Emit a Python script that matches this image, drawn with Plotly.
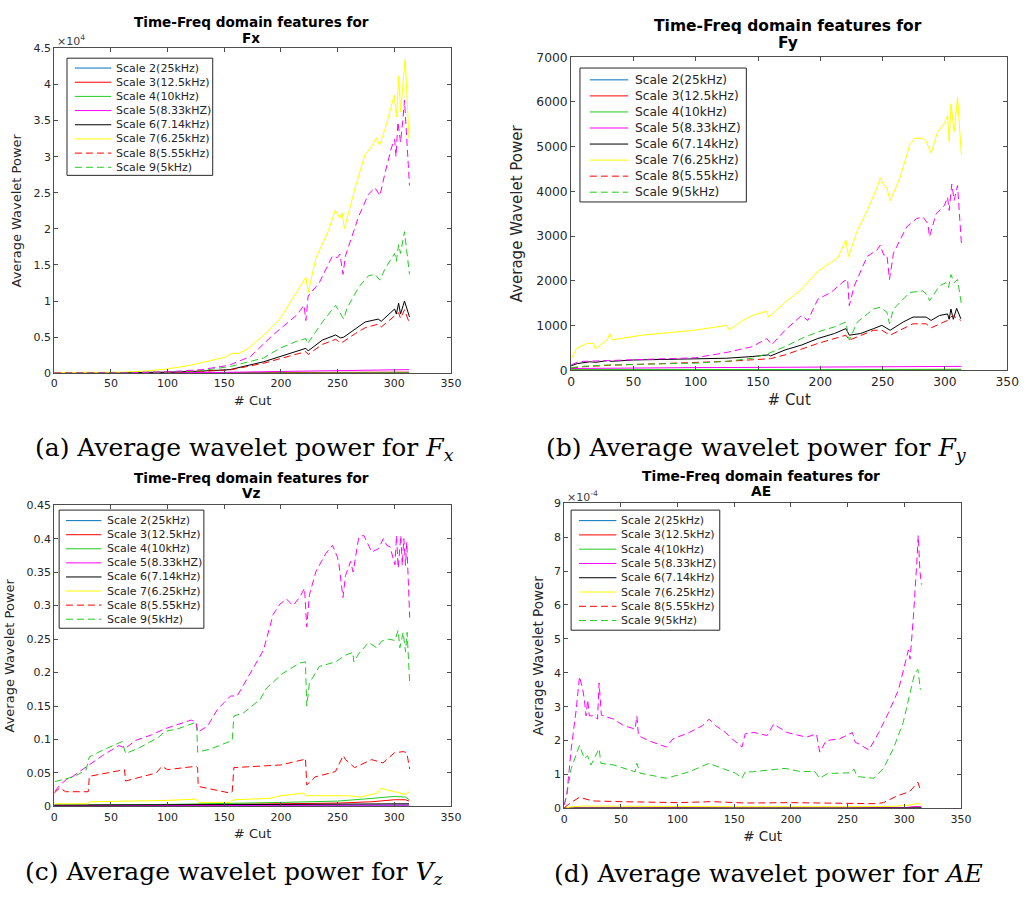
import plotly.graph_objects as go

W, H = 1035, 906

# ---------------- series names / styles ----------------
SERIES = ["Scale 2(25kHz)", "Scale 3(12.5kHz)", "Scale 4(10kHz)", "Scale 5(8.33kHZ)",
          "Scale 6(7.14kHz)", "Scale 7(6.25kHz)", "Scale 8(5.55kHz)", "Scale 9(5kHz)",
          "Scale 10"]
COLORS = ["#0072BD", "#FF0000", "#22CC22", "#FF00FF", "#000000",
          "#FFFF00", "#FF0000", "#22CC22", "#FF00FF"]
DASHES = ["solid", "solid", "solid", "solid", "solid", "solid",
          "7px,4px", "7px,4px", "7px,4px"]

X_TICKS = [0, 50, 100, 150, 200, 250, 300, 350]

# ---------------- (a) Fx  (values in units of 1e4) ----------------
fx_s2_x = [0, 100, 200, 313]
fx_s2_y = [0.0, 0.002, 0.004, 0.006]
fx_s3_x = [0, 100, 200, 313]
fx_s3_y = [0.0, 0.003, 0.008, 0.015]
fx_s4_x = [0, 100, 200, 313]
fx_s4_y = [0.001, 0.002, 0.003, 0.005]
fx_s5_x = [0, 100, 150, 200, 250, 300, 313]
fx_s5_y = [0.001, 0.005, 0.012, 0.025, 0.04, 0.05, 0.05]
fx_s6_x = [0, 60, 100, 130, 155, 185, 199, 213, 222, 224, 236.6, 248.2, 252.5, 255.4,
           265.6, 274.3, 285.8, 288.5, 300.3, 301.8, 303.8, 305.5, 309, 313.4]
fx_s6_y = [0.002, 0.005, 0.015, 0.03, 0.05, 0.16, 0.23, 0.3, 0.345, 0.31, 0.46, 0.53, 0.49,
           0.5, 0.62, 0.71, 0.75, 0.72, 0.89, 0.82, 0.97, 0.82, 1.0, 0.78]
fx_s7_x = [0, 40, 60, 80, 100, 120, 140, 150, 158, 162, 170, 185, 199, 210, 222, 224, 231,
           242, 248, 252, 254, 256, 266, 274, 280, 284, 287, 292, 297, 300, 302, 304, 305.5,
           307.5, 309.6, 313]
fx_s7_y = [0.01, 0.01, 0.015, 0.03, 0.06, 0.11, 0.18, 0.22, 0.28, 0.27, 0.33, 0.53, 0.75,
           1.02, 1.33, 1.12, 1.6, 1.98, 2.26, 2.15, 2.22, 2.0, 2.6, 3.02, 3.14, 3.26, 3.16,
           3.39, 3.7, 3.85, 3.55, 4.12, 3.62, 3.95, 4.35, 3.25]
fx_s8_x = [0, 60, 100, 130, 155, 185, 199, 213, 222, 224, 236.6, 248.2, 252.5, 255.4,
           265.6, 274.3, 285.8, 288.5, 300.3, 303.8, 305.5, 309, 313.4]
fx_s8_y = [0.002, 0.005, 0.013, 0.027, 0.045, 0.14, 0.2, 0.26, 0.3, 0.26, 0.4, 0.47, 0.42,
           0.44, 0.55, 0.63, 0.68, 0.64, 0.8, 0.84, 0.76, 0.88, 0.69]
fx_s9_x = [0, 60, 100, 130, 155.5, 184.5, 199, 213.5, 222, 223.5, 236.6, 248.2, 252.5,
           255.4, 258.3, 268.5, 277.2, 283, 287.3, 291.6, 300.3, 301.8, 303.8, 305.5, 309,
           313.4]
fx_s9_y = [0.002, 0.005, 0.015, 0.035, 0.095, 0.21, 0.345, 0.44, 0.48, 0.41, 0.71, 0.94,
           0.82, 0.75, 0.9, 1.19, 1.35, 1.37, 1.29, 1.44, 1.66, 1.55, 1.78, 1.66, 1.96, 1.37]
fx_s10_x = [0, 60, 100, 130, 150, 155.5, 173, 193, 213.5, 220.4, 222, 224, 233.7, 245.3,
            249.6, 252, 254.8, 256.8, 268.5, 277.2, 283, 287.3, 291.6, 297.4, 300.3, 301.5,
            303.2, 305.5, 307.5, 309, 313.4]
fx_s10_y = [0.002, 0.005, 0.02, 0.05, 0.1, 0.12, 0.23, 0.53, 0.8, 0.94, 0.73, 1.07, 1.25,
            1.62, 1.6, 1.65, 1.37, 1.62, 2.17, 2.48, 2.57, 2.46, 2.76, 3.12, 3.24, 3.0, 3.48,
            3.2, 3.5, 3.78, 2.6]

# ---------------- (b) Fy ----------------
fy_s2_x = [0, 313]
fy_s2_y = [2, 5]
fy_s3_x = [0, 100, 200, 313]
fy_s3_y = [10, 12, 15, 20]
fy_s4_x = [0, 100, 200, 313]
fy_s4_y = [15, 16, 18, 20]
fy_s5_x = [0, 50, 100, 150, 200, 250, 300, 313]
fy_s5_y = [40, 55, 60, 65, 70, 75, 85, 88]
fy_s6_x = [0, 5, 15, 20, 30, 32, 50, 100, 125, 145.4, 158.6, 160, 171.7, 184.9, 198, 211.3,
           220.5, 223.2, 232.3, 242.8, 249.4, 256, 266.5, 274.4, 284.9, 288.9, 295.6, 302.1,
           303.4, 304.8, 306.7, 309.4, 312.8]
fy_s6_y = [100, 150, 190, 180, 220, 200, 230, 250, 270, 308, 345, 320, 455, 565, 711, 822,
           932, 785, 822, 932, 1005, 895, 1080, 1190, 1190, 1115, 1225, 1260, 1140, 1370,
           1140, 1385, 1150]
fy_s7_x = [0, 4.4, 12.3, 18, 19.5, 29, 31, 33, 56.7, 83, 98.8, 125, 127, 135.7, 145.4,
           156.7, 158.6, 171.7, 184.9, 198, 205.9, 213.9, 220.5, 222.6, 229.7, 237.6, 245.5,
           248.1, 250.8, 253.4, 256, 263.9, 271.8, 275.7, 282.3, 284.9, 288.9, 294.2, 299.5,
           302.1, 303.4, 304.8, 307.4, 310.1, 313.2]
fy_s7_y = [250, 490, 600, 600, 480, 680, 820, 680, 785, 858, 895, 1005, 900, 1080, 1225,
           1320, 1190, 1520, 1810, 2215, 2360, 2510, 2910, 2545, 3130, 3570, 4085, 4300, 4150,
           4080, 3790, 4300, 5040, 5190, 5190, 5115, 4860, 5335, 5520, 5700, 5115, 5960,
           5335, 6105, 4820]
fy_s8_x = [0, 10, 30, 50, 100, 125, 145.4, 160, 171.7, 198, 220.5, 223.2, 242.8, 249.4,
           256, 274.4, 284.9, 288.9, 302.1, 306, 312.8]
fy_s8_y = [50, 80, 110, 130, 170, 200, 235, 260, 345, 600, 785, 675, 895, 895, 785, 1040,
           1040, 950, 1115, 1225, 1115]
fy_s9_x = [0, 10, 30, 50, 100, 125, 145.4, 158.6, 171.7, 184.9, 198, 211.3, 220.5, 223.2,
           229.7, 242.8, 248.1, 253.4, 255.5, 258.7, 271.8, 282.3, 286.3, 287.6, 295.6,
           300.8, 302.9, 304.8, 307.4, 310.1, 313.2]
fy_s9_y = [60, 90, 120, 130, 160, 200, 270, 380, 528, 711, 858, 970, 1080, 675, 1080,
           1370, 1410, 1300, 1040, 1370, 1740, 1775, 1665, 1555, 1885, 1960, 1850, 2140,
           1960, 2030, 1480]
fy_s10_x = [0, 5, 10, 30, 50, 100, 125, 145.4, 150, 157, 161, 171.7, 184.9, 190, 198,
            208.5, 219, 221.9, 223.2, 227.2, 237.6, 245.5, 248.1, 250.8, 253.4, 255.5,
            258.7, 269.2, 277.1, 282.3, 286.3, 287.6, 292.9, 299.5, 302.1, 303.4, 305.5,
            307.4, 310.1, 313.2]
fy_s10_y = [120, 180, 200, 220, 230, 280, 400, 528, 600, 711, 570, 895, 1225, 1115, 1590,
            1740, 1995, 2030, 1445, 1885, 2545, 2690, 2800, 2580, 2580, 2030, 2620, 3205,
            3390, 3430, 3280, 2985, 3500, 3680, 3870, 3575, 4160, 3800, 4130, 2840]

# ---------------- (c) Vz ----------------
vz_s2_x = [0, 313]
vz_s2_y = [0.001, 0.002]
vz_s3_x = [0, 100, 200, 250, 280, 300, 310, 313]
vz_s3_y = [0.001, 0.002, 0.004, 0.005, 0.007, 0.01, 0.01, 0.008]
vz_s4_x = [0, 100, 200, 250, 280, 300, 310, 313]
vz_s4_y = [0.002, 0.003, 0.006, 0.008, 0.012, 0.015, 0.014, 0.01]
vz_s5_x = [0, 313]
vz_s5_y = [0.001, 0.002]
vz_s6_x = [0, 100, 200, 313]
vz_s6_y = [0.002, 0.002, 0.003, 0.004]
vz_s7_x = [0, 30, 31, 60, 100, 125, 127, 155, 158, 190, 200, 220, 222, 230, 260, 270, 285,
           288, 300, 310, 313]
vz_s7_y = [0.004, 0.004, 0.007, 0.008, 0.009, 0.011, 0.006, 0.006, 0.01, 0.012, 0.016,
           0.02, 0.016, 0.016, 0.016, 0.014, 0.02, 0.027, 0.022, 0.018, 0.022]
vz_s8_x = [0, 5, 10, 30, 31, 60, 62, 63, 90, 95, 100, 125, 126.5, 127, 155, 157, 158.5,
           200, 220, 221.6, 222.8, 230, 248, 255, 257, 265, 280, 290, 300, 308, 311, 313.6]
vz_s8_y = [0.02, 0.028, 0.022, 0.022, 0.045, 0.055, 0.055, 0.038, 0.05, 0.06, 0.055, 0.06,
           0.058, 0.03, 0.02, 0.022, 0.058, 0.062, 0.07, 0.072, 0.032, 0.044, 0.052, 0.076,
           0.07, 0.058, 0.07, 0.065, 0.08, 0.082, 0.08, 0.056]
vz_s9_x = [0.6, 7.8, 16.5, 28, 31, 42.6, 60, 63, 74.4, 91.8, 97.6, 109.2, 123.7, 125.5,
           126.6, 138.2, 157, 158.5, 167.2, 181.7, 187.4, 201.9, 216.4, 221.6, 222.8, 225.1,
           233.8, 248.3, 257, 263.4, 264.3, 268.6, 277.3, 284.6, 288.9, 294.7, 300.5, 303.4,
           304.9, 307.8, 309.9, 311.3, 313.6]
vz_s9_y = [0.037, 0.04, 0.044, 0.054, 0.074, 0.084, 0.097, 0.079, 0.087, 0.103, 0.112,
           0.116, 0.125, 0.126, 0.081, 0.086, 0.0985, 0.135, 0.14, 0.16, 0.177, 0.199, 0.214,
           0.216, 0.15, 0.184, 0.209, 0.216, 0.226, 0.23, 0.216, 0.228, 0.245, 0.237, 0.247,
           0.25, 0.248, 0.263, 0.237, 0.26, 0.231, 0.26, 0.184]
vz_s10_x = [0.6, 5, 10.7, 16.5, 22.3, 31, 42.6, 57, 63, 71.5, 86, 97.6, 109.2, 120.8,
            125.1, 126.6, 135.3, 144, 149.8, 155.6, 161.4, 173, 184.5, 193.2, 199, 204.8,
            210.6, 216.4, 220.8, 222.8, 225.1, 230.9, 239.6, 245.4, 249.7, 251.2, 254.7,
            257, 261.4, 263.7, 268.6, 273, 280.2, 286, 290.4, 293.3, 296.2, 300.5, 302,
            303.4, 305.8, 307, 308.4, 309.9, 311, 313.6]
vz_s10_y = [0.0225, 0.032, 0.04, 0.045, 0.052, 0.062, 0.076, 0.091, 0.087, 0.0985, 0.107,
            0.116, 0.123, 0.129, 0.126, 0.111, 0.12, 0.145, 0.155, 0.165, 0.165, 0.199,
            0.233, 0.287, 0.302, 0.31, 0.3, 0.312, 0.326, 0.268, 0.316, 0.351, 0.378, 0.39,
            0.373, 0.361, 0.312, 0.345, 0.366, 0.35, 0.402, 0.405, 0.38, 0.385, 0.4, 0.39,
            0.388, 0.361, 0.405, 0.356, 0.405, 0.36, 0.4, 0.36, 0.395, 0.282]

# ---------------- (d) AE (values in units of 1e-4) ----------------
ae_s2_x = [0, 315]
ae_s2_y = [0.005, 0.01]
ae_s3_x = [0, 300, 312, 315]
ae_s3_y = [0.01, 0.02, 0.05, 0.04]
ae_s4_x = [0, 315]
ae_s4_y = [0.01, 0.02]
ae_s5_x = [0, 300, 312, 315]
ae_s5_y = [0.01, 0.02, 0.06, 0.03]
ae_s6_x = [0, 315]
ae_s6_y = [0.005, 0.01]
ae_s7_x = [0, 5, 15, 50, 150, 250, 290, 305, 312, 315]
ae_s7_y = [0.0, 0.04, 0.07, 0.06, 0.05, 0.05, 0.06, 0.1, 0.15, 0.1]
ae_s8_x = [0, 5, 13.5, 25, 50, 100, 130, 160, 200, 260, 275, 281.6, 293.2, 304.8, 312,
           314.2]
ae_s8_y = [0.02, 0.15, 0.33, 0.22, 0.2, 0.17, 0.2, 0.16, 0.17, 0.15, 0.14, 0.17, 0.36, 0.5,
           0.77, 0.55]
ae_s9_x = [0, 2.3, 6.2, 13.5, 17.8, 20.7, 23.6, 30.8, 32.3, 43.8, 62.6, 64.1, 67, 84.4,
           90.1, 110.4, 127.8, 139.4, 151, 156.8, 159.7, 165.9, 194.8, 209.3, 220.9, 225.2,
           232.4, 252.7, 255.6, 258.5, 273, 281.6, 290.3, 299, 304.8, 309.2, 312, 314.2]
ae_s9_y = [0.1, 0.41, 1.18, 1.86, 1.47, 1.55, 1.28, 1.76, 1.33, 1.28, 1.08, 1.33, 1.04,
           0.94, 0.89, 1.08, 1.33, 1.18, 1.04, 0.89, 1.08, 1.08, 1.18, 1.08, 1.1, 0.89, 1.03,
           1.05, 1.16, 0.94, 0.89, 1.18, 1.76, 2.53, 3.31, 3.99, 4.1, 3.5]
ae_s10_x = [0, 2.3, 6.2, 10.6, 13.5, 16.4, 17.8, 19.3, 20.7, 22.2, 26.5, 29.4, 30.8, 32.8,
            43.8, 52.5, 62.6, 64.1, 65.5, 74.2, 90.1, 95.9, 110.4, 122, 127.8, 133.6, 142.3,
            148.1, 156.8, 159.7, 167.4, 179, 184.8, 196.4, 213.8, 222.5, 225.4, 231.2,
            242.8, 254.3, 256.7, 260.1, 268.8, 277.5, 286.2, 294.9, 300.7, 303.6, 305.1,
            308, 310.9, 312.3, 313.8, 315.2]
ae_s10_y = [0.1, 0.41, 1.76, 2.92, 3.89, 3.5, 3.2, 2.73, 3.2, 2.73, 2.73, 2.63, 3.7, 2.75,
            2.63, 2.44, 2.34, 2.73, 2.15, 2.0, 1.81, 2.05, 2.24, 2.44, 2.63, 2.44, 2.24,
            2.05, 1.81, 2.2, 2.24, 2.15, 2.49, 2.24, 2.1, 2.2, 1.66, 2.0, 2.05, 2.24, 1.95,
            1.9, 1.72, 2.24, 2.83, 3.5, 4.28, 4.67, 4.4, 5.63, 7.18, 8.05, 7.0, 6.6]

# ---------------- axis tick labels ----------------
fx_yticks = [0, 0.5, 1, 1.5, 2, 2.5, 3, 3.5, 4, 4.5]
fy_yticks = [0, 1000, 2000, 3000, 4000, 5000, 6000, 7000]
vz_yticks = [0, 0.05, 0.1, 0.15, 0.2, 0.25, 0.3, 0.35, 0.4, 0.45]
ae_yticks = [0, 1, 2, 3, 4, 5, 6, 7, 8, 9]

panel_series = [
    [(fx_s2_x, fx_s2_y), (fx_s3_x, fx_s3_y), (fx_s4_x, fx_s4_y), (fx_s5_x, fx_s5_y),
     (fx_s6_x, fx_s6_y), (fx_s7_x, fx_s7_y), (fx_s8_x, fx_s8_y), (fx_s9_x, fx_s9_y),
     (fx_s10_x, fx_s10_y)],
    [(fy_s2_x, fy_s2_y), (fy_s3_x, fy_s3_y), (fy_s4_x, fy_s4_y), (fy_s5_x, fy_s5_y),
     (fy_s6_x, fy_s6_y), (fy_s7_x, fy_s7_y), (fy_s8_x, fy_s8_y), (fy_s9_x, fy_s9_y),
     (fy_s10_x, fy_s10_y)],
    [(vz_s2_x, vz_s2_y), (vz_s3_x, vz_s3_y), (vz_s4_x, vz_s4_y), (vz_s5_x, vz_s5_y),
     (vz_s6_x, vz_s6_y), (vz_s7_x, vz_s7_y), (vz_s8_x, vz_s8_y), (vz_s9_x, vz_s9_y),
     (vz_s10_x, vz_s10_y)],
    [(ae_s2_x, ae_s2_y), (ae_s3_x, ae_s3_y), (ae_s4_x, ae_s4_y), (ae_s5_x, ae_s5_y),
     (ae_s6_x, ae_s6_y), (ae_s7_x, ae_s7_y), (ae_s8_x, ae_s8_y), (ae_s9_x, ae_s9_y),
     (ae_s10_x, ae_s10_y)],
]
title_line1 = "Time-Freq domain features for"
title_line2 = ["Fx", "Fy", "Vz", "AE"]
panel_yticks = [fx_yticks, fy_yticks, vz_yticks, ae_yticks]
panel_yrange = [4.5, 7000, 0.45, 9]
captions = ["(a) Average wavelet power for <i>F</i><sub><i>x</i></sub>",
            "(b) Average wavelet power for <i>F</i><sub><i>y</i></sub>",
            "(c) Average wavelet power for <i>V</i><sub><i>z</i></sub>",
            "(d) Average wavelet power for <i>AE</i>"]

# ---------------- layout geometry (pixels) ----------------
BOX = [(51, 454, 42, 372), (576, 1019, 51, 369), (51, 454, 506, 812), (569, 972, 504, 814)]
TICK_FS = [11, 12.3, 11, 11]
LAB_FS = [13, 15, 13, 13.5]
YSTAND = [8.5, 10, 8, 6.5]
TITLE_FS = [13.6, 15.5, 13.6, 13.8]
TITLE_POS = [(251, 15.5, 31), (796, 19.5, 37), (251, 478.5, 493.5), (769, 476.5, 492)]
LEG = [  # box l, r, t, b, line x0, x1, text x, first y, step, font
    (64, 212, 52, 171, 72, 109, 112, 62, 14.4, 11),
    (585, 754, 62, 198, 595, 634, 639, 74, 16.3, 12.2),
    (56, 203, 511, 631, 63, 99, 103, 521.7, 14.3, 11),
    (576, 727, 511, 633, 584, 622, 625, 521.7, 14.5, 11),
]
CAP_POS = [(244, 449), (764, 449), (234, 880), (776, 880)]

FONT = "DejaVu Sans"
AX_COLOR = "#4d4d4d"
TXT_COLOR = "#262626"


def fx(px):
    return px / W


def fy(py):
    return 1 - py / H


def text_ann(text, x, y, size, family=FONT, color=TXT_COLOR, xanchor="center"):
    return dict(text=text, x=fx(x), y=fy(y), xref="paper", yref="paper",
                xanchor=xanchor, yanchor="middle", showarrow=False,
                font=dict(family=family, size=size, color=color))


fig = go.Figure()
shapes = []
annotations = []
layout = {}

for p in range(4):
    sfx = "" if p == 0 else str(p + 1)
    for k, (xs, ys) in enumerate(panel_series[p]):
        fig.add_trace(go.Scatter(
            x=xs, y=ys, mode="lines", name=SERIES[k], showlegend=False,
            line=dict(color=COLORS[k], width=1, dash=DASHES[k]),
            xaxis="x" + sfx, yaxis="y" + sfx))
    l, r, t, b = BOX[p]
    layout["xaxis" + sfx] = dict(
        domain=[fx(l), fx(r)], anchor="y" + sfx, range=[0, 350],
        tickmode="array", tickvals=X_TICKS, ticktext=[str(v) for v in X_TICKS],
        ticks="inside", ticklen=4, tickcolor=AX_COLOR, showline=True, linecolor=AX_COLOR,
        linewidth=1, mirror="ticks", showgrid=False, zeroline=False,
        tickfont=dict(family=FONT, size=TICK_FS[p], color=TXT_COLOR),
        title=dict(text="# Cut", font=dict(family=FONT, size=LAB_FS[p], color=TXT_COLOR),
                   standoff=6))
    yt = panel_yticks[p]
    layout["yaxis" + sfx] = dict(
        domain=[fy(b), fy(t)], anchor="x" + sfx, range=[0, panel_yrange[p]],
        tickmode="array", tickvals=yt, ticktext=[("%g" % v) for v in yt],
        ticks="inside", ticklen=4, tickcolor=AX_COLOR, showline=True, linecolor=AX_COLOR,
        linewidth=1, mirror="ticks", showgrid=False, zeroline=False,
        tickfont=dict(family=FONT, size=TICK_FS[p], color=TXT_COLOR),
        title=dict(text="Average Wavelet Power",
                   font=dict(family=FONT, size=LAB_FS[p], color=TXT_COLOR),
                   standoff=YSTAND[p]))

    # two-line bold title
    tx, ty1, ty2 = TITLE_POS[p]
    annotations.append(text_ann("<b>" + title_line1 + "</b>", tx, ty1, TITLE_FS[p],
                                color="#000000"))
    annotations.append(text_ann("<b>" + title_line2[p] + "</b>", tx, ty2, TITLE_FS[p],
                                color="#000000"))
    # caption
    cx, cy = CAP_POS[p]
    annotations.append(text_ann(captions[p], cx, cy, 25, family="DejaVu Serif",
                                color="#000000"))

    # legend (drawn manually to match MATLAB spacing)
    bl, br, bt, bb, lx0, lx1, tx0, y0, step, lfs = LEG[p]
    shapes.append(dict(type="rect", xref="paper", yref="paper", x0=fx(bl), x1=fx(br),
                       y0=fy(bb), y1=fy(bt), line=dict(color="#262626", width=1),
                       fillcolor="white", layer="above"))
    for k in range(8):
        yy = y0 + k * step
        shapes.append(dict(type="line", xref="paper", yref="paper", x0=fx(lx0), x1=fx(lx1),
                           y0=fy(yy), y1=fy(yy),
                           line=dict(color=COLORS[k], width=1, dash=DASHES[k]),
                           layer="above"))
        annotations.append(text_ann(SERIES[k], tx0, yy, lfs, xanchor="left"))

# exponent labels
annotations.append(text_ann("\u00d710<sup>4</sup>", 52, 34, 11, color="#404040",
                            xanchor="left"))
annotations.append(text_ann("\u00d710<sup>-4</sup>", 570, 497, 11, color="#404040",
                            xanchor="left"))

fig.update_layout(width=W, height=H, margin=dict(l=0, r=0, t=0, b=0),
                  paper_bgcolor="white", plot_bgcolor="white", showlegend=False,
                  shapes=shapes, annotations=annotations, **layout)

fig.write_html("out.html", config={"displayModeBar": False},
               post_script="document.body.style.margin='0';"
                           "document.body.style.overflow='hidden';")
